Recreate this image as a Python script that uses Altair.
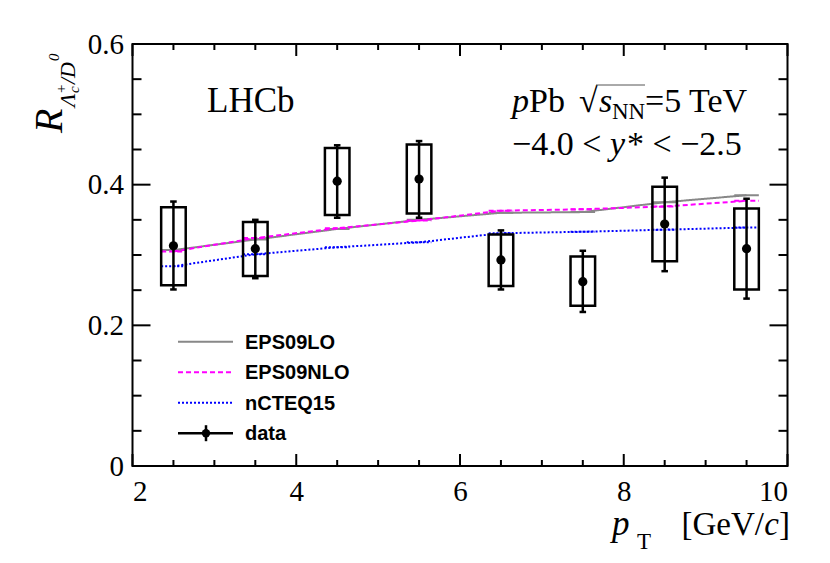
import altair as alt
import pandas as pd

# ---- data ----
pt = [2.5, 3.5, 4.5, 5.5, 6.5, 7.5, 8.5, 9.5]
val = [0.313, 0.309, 0.405, 0.408, 0.293, 0.262, 0.344, 0.309]
stat_lo = [0.251, 0.267, 0.353, 0.353, 0.251, 0.219, 0.277, 0.238]
stat_hi = [0.376, 0.350, 0.456, 0.462, 0.335, 0.306, 0.410, 0.380]
sys_lo = [0.257, 0.270, 0.357, 0.359, 0.256, 0.228, 0.291, 0.251]
sys_hi = [0.368, 0.347, 0.452, 0.457, 0.329, 0.298, 0.397, 0.366]

eps09lo = [0.307, 0.322, 0.337, 0.350, 0.360, 0.361, 0.375, 0.385]
eps09nlo = [0.305, 0.324, 0.338, 0.349, 0.363, 0.365, 0.369, 0.377]
ncteq15 = [0.284, 0.301, 0.311, 0.318, 0.331, 0.333, 0.336, 0.339]

series_names = ["EPS09LO", "EPS09NLO", "nCTEQ15", "data"]
series_vals = [eps09lo, eps09nlo, ncteq15]
series_colors = ["#888888", "#ff00ff", "#0000ff"]
series_dash = [[1, 0], [5, 3], [2, 2]]

x_major = [2, 4, 6, 8, 10]
x_minor = [2.5, 3, 3.5, 4.5, 5, 5.5, 6.5, 7, 7.5, 8.5, 9, 9.5]
y_major = [0, 0.2, 0.4, 0.6]
y_minor = [0.05, 0.1, 0.15, 0.25, 0.3, 0.35, 0.45, 0.5, 0.55]

half_bin = 0.15
W, H = 655, 422
SERIF = "Liberation Serif"
SANS = "Liberation Sans"

xs = alt.Scale(domain=[2, 10], nice=False, zero=False)
ys = alt.Scale(domain=[0, 0.6], nice=False, zero=False)
x_axis = alt.Axis(values=x_major, ticks=False, tickSize=0, domain=False, grid=False,
                  title=None, labelFont=SERIF, labelFontSize=29, labelColor="black",
                  labelPadding=11, labelExpr="format(datum.value, 'd')")
y_axis = alt.Axis(values=y_major, ticks=False, tickSize=0, domain=False, grid=False,
                  title=None, labelFont=SERIF, labelFontSize=29, labelColor="black",
                  labelPadding=9,
                  labelExpr="datum.value == 0 ? '0' : format(datum.value, '.1f')")

def X(f):
    return alt.X(f, scale=xs, axis=x_axis)

def Y(f):
    return alt.Y(f, scale=ys, axis=y_axis)

df = pd.DataFrame({"pt": pt, "val": val, "slo": stat_lo, "shi": stat_hi,
                   "ylo": sys_lo, "yhi": sys_hi})
df["xlo"] = df["pt"] - half_bin
df["xhi"] = df["pt"] + half_bin
df["clo"] = df["pt"] - 0.04
df["chi"] = df["pt"] + 0.04

dummy = pd.DataFrame({"a": [0]})
layers = []

# ---- theory curves ----
for name, vals, col, dash in zip(series_names[:3], series_vals, series_colors, series_dash):
    d = pd.DataFrame({"pt": pt, "v": vals})
    d["xlo"] = d["pt"] - half_bin
    d["xhi"] = d["pt"] + half_bin
    base = alt.Chart(d)
    layers.append(base.mark_line(color=col, strokeWidth=2, strokeDash=dash).encode(
        x=X("pt:Q"), y=Y("v:Q")))
    layers.append(base.mark_rule(color=col, strokeWidth=2, strokeDash=dash).encode(
        x=X("xlo:Q"), x2="xhi:Q", y=Y("v:Q")))

# ---- data: boxes, error bars, caps, points ----
base = alt.Chart(df)
layers.append(base.mark_rect(fillOpacity=0, stroke="black", strokeWidth=2.5).encode(
    x=X("xlo:Q"), x2="xhi:Q", y=Y("ylo:Q"), y2="yhi:Q"))
layers.append(base.mark_rule(color="black", strokeWidth=2.5).encode(
    x=X("pt:Q"), y=Y("slo:Q"), y2="shi:Q"))
for f in ["slo", "shi"]:
    layers.append(base.mark_rule(color="black", strokeWidth=2.5).encode(
        x=X("clo:Q"), x2="chi:Q", y=Y(f + ":Q")))
layers.append(base.mark_circle(color="black", opacity=1, size=85).encode(
    x=X("pt:Q"), y=Y("val:Q")))

# ---- inward ticks on all four sides ----
def xticks(vals, ln):
    d = pd.DataFrame({"t": vals})
    out = []
    for y0, y1 in [(H, H - ln), (0, ln)]:
        out.append(alt.Chart(d).mark_rule(color="black", strokeWidth=2).encode(
            x=X("t:Q"), y=alt.value(y0), y2=alt.value(y1)))
    return out

def yticks(vals, ln):
    d = pd.DataFrame({"t": vals})
    out = []
    for x0, x1 in [(0, ln), (W, W - ln)]:
        out.append(alt.Chart(d).mark_rule(color="black", strokeWidth=2).encode(
            y=Y("t:Q"), x=alt.value(x0), x2=alt.value(x1)))
    return out

layers += xticks(x_major, 12) + xticks(x_minor, 6) + yticks(y_major, 18) + yticks(y_minor, 9)

# ---- text helper ----
def txt(s, x, y, size, font=SERIF, style="normal", align="left", baseline="alphabetic",
        angle=0, weight="normal"):
    return alt.Chart(dummy).mark_text(
        text=s, fontSize=size, font=font, fontStyle=style, align=align, baseline=baseline,
        angle=angle, fontWeight=weight, color="black").encode(x=alt.value(x), y=alt.value(y))

# origin of plot area in page coords
OX, OY = 132.5, 44

def P(x, y):
    return x - OX, y - OY

# LHCb
layers.append(txt("LHCb", *P(207, 112), 35))

# pPb sqrt(sNN)=5 TeV
fs = 34
b1 = 112
layers.append(txt("p", *P(512, b1), fs, style="italic"))
layers.append(txt("Pb", *P(529, b1), fs))
layers.append(txt("\u221a", *P(579, b1), fs))
layers.append(alt.Chart(dummy).mark_rule(color="#555555", strokeWidth=1).encode(
    x=alt.value(P(596, 0)[0]), x2=alt.value(P(645, 0)[0]), y=alt.value(P(0, b1 - 27)[1])))
layers.append(txt("s", *P(599, b1), fs, style="italic"))
layers.append(txt("NN", *P(612, b1 + 7), 23))
layers.append(txt("=5 TeV", *P(645, b1), fs))

# -4.0 < y* < -2.5
b2 = 155
layers.append(txt("\u22124.0 <", *P(512, b2), fs))
layers.append(txt("y", *P(610, b2), fs, style="italic"))
layers.append(txt("* < \u22122.5", *P(627, b2), fs))

# y-axis title R_{Lambda_c^+/D^0}
layers.append(txt("R", *P(62, 133), 40, style="italic", angle=270))
layers.append(txt("\u039b", *P(75, 107), 22, style="italic", angle=270))
layers.append(txt("+", *P(66, 93), 15, angle=270))
layers.append(txt("c", *P(79, 93), 15, style="italic", angle=270))
layers.append(txt("/D", *P(75, 84), 22, style="italic", angle=270))
layers.append(txt("0", *P(59, 61), 15, style="italic", angle=270))

# x-axis title p_T [GeV/c]
b3 = 535
layers.append(txt("p", *P(612, b3), 35, style="italic"))
layers.append(txt("T", *P(637, b3 + 14), 23))
layers.append(txt("]", *P(790, b3), 33, align="right"))
layers.append(txt("c", *P(779, b3), 33, style="italic", align="right"))
layers.append(txt("[GeV/", *P(764, b3), 33, align="right"))

# ---- legend ----
leg_y0 = 341.7
leg_dy = 30.5
lx0, lx1, ltx = 178, 233, 245
for i, name in enumerate(series_names):
    yy = P(0, leg_y0 + i * leg_dy)[1]
    if i < 3:
        layers.append(alt.Chart(dummy).mark_rule(
            color=series_colors[i], strokeWidth=2, strokeDash=series_dash[i]).encode(
            x=alt.value(P(lx0, 0)[0]), x2=alt.value(P(lx1, 0)[0]), y=alt.value(yy)))
    else:
        layers.append(alt.Chart(dummy).mark_rule(color="black", strokeWidth=2.5).encode(
            x=alt.value(P(lx0, 0)[0]), x2=alt.value(P(lx1, 0)[0]), y=alt.value(yy)))
        layers.append(alt.Chart(dummy).mark_rule(color="black", strokeWidth=2.5).encode(
            x=alt.value(P(206, 0)[0]), y=alt.value(yy - 8), y2=alt.value(yy + 8)))
        layers.append(alt.Chart(dummy).mark_point(
            color="black", filled=True, opacity=1, size=70, shape="circle").encode(
            x=alt.value(P(206, 0)[0]), y=alt.value(yy)))
    layers.append(txt(name, P(ltx, 0)[0], yy + 7, 20, font=SANS, weight="bold"))

chart = alt.layer(*layers).properties(
    width=W, height=H,
    autosize=alt.AutoSizeParams(type="none"),
    padding={"left": 124.5, "top": 36, "right": 30, "bottom": 100},
    background="white",
).configure_view(stroke="black", strokeWidth=2).configure_axis(
    labelFont=SERIF, labelFontSize=29, labelColor="black")

chart.save("out.html", embed_options={"renderer": "svg", "actions": False})
